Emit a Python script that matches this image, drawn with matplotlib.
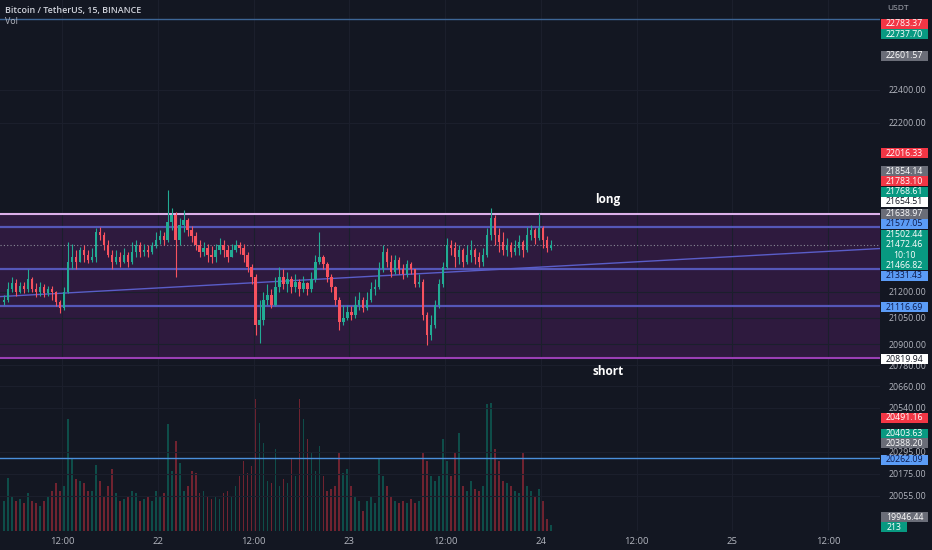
import matplotlib
matplotlib.use('Agg')
import matplotlib.pyplot as plt
from matplotlib.patches import Rectangle
from matplotlib.ticker import FixedLocator, NullLocator, FixedFormatter
import numpy as np

# ---------------- data ----------------
start_hour = 4.5          # hours after 21 Jan 00:00 of the first 30-min candle
bar_hours = 0.5
first_open = 21138
closes = [21155,21213,21248,21201,21236,21213,21271,21213,21201,21225,
          21190,21213,21196,21143,21109,21201,21375,21399,21375,21445,
          21416,21387,21399,21549,21532,21474,21416,21375,21399,21375,
          21416,21375,21433,21474,21433,21445,21433,21468,21503,21526,
          21503,21607,21648,21503,21590,21619,21561,21526,21474,21433,
          21457,21416,21399,21445,21474,21445,21399,21445,21474,21457,
          21416,21341,21283,21010,21039,21155,21184,21126,21225,21283,
          21242,21271,21225,21259,21213,21248,21213,21271,21375,21404,
          21358,21283,21225,21155,21027,21051,21085,21068,21126,21155,
          21109,21155,21213,21225,21329,21433,21375,21317,21387,21329,
          21300,21358,21329,21242,21259,21068,20952,21010,21126,21242,
          21341,21474,21457,21399,21445,21375,21416,21445,21399,21375,
          21416,21532,21631,21532,21491,21445,21474,21433,21457,21491,
          21445,21532,21561,21515,21573,21503,21457,21472]
highs = [21184,21259,21283,21271,21259,21254,21329,21283,21248,21259,
         21242,21236,21236,21207,21155,21225,21491,21480,21445,21462,
         21474,21445,21457,21573,21579,21549,21503,21445,21445,21433,
         21457,21433,21491,21503,21491,21480,21474,21491,21549,21561,
         21549,21793,21689,21666,21631,21677,21631,21584,21549,21503,
         21491,21480,21468,21480,21515,21503,21474,21480,21503,21491,
         21480,21433,21358,21300,21155,21201,21242,21213,21283,21341,
         21329,21317,21294,21300,21271,21294,21259,21317,21416,21549,
         21416,21375,21300,21236,21167,21126,21126,21120,21178,21201,
         21167,21201,21254,21271,21375,21474,21457,21416,21416,21399,
         21358,21387,21375,21329,21300,21271,21085,21068,21155,21271,
         21375,21515,21503,21491,21474,21457,21474,21503,21457,21433,
         21457,21573,21689,21648,21573,21549,21515,21491,21503,21532,
         21503,21579,21590,21573,21660,21584,21526,21503]
lows = [21126,21143,21201,21178,21190,21190,21201,21196,21172,21178,
        21167,21178,21155,21120,21080,21097,21190,21329,21329,21375,
        21375,21364,21375,21375,21503,21445,21399,21329,21358,21341,
        21364,21341,21358,21399,21399,21410,21399,21422,21457,21480,
        21474,21491,21561,21283,21474,21549,21526,21491,21445,21399,
        21410,21375,21364,21375,21422,21399,21370,21399,21433,21422,
        21375,21317,21242,20952,20906,21010,21126,21109,21120,21201,
        21213,21201,21190,21201,21178,21201,21184,21201,21259,21358,
        21329,21259,21201,21126,20981,21010,21039,21039,21051,21097,
        21085,21097,21143,21184,21213,21317,21341,21283,21300,21300,
        21271,21283,21300,21225,21225,21039,20894,20923,20993,21109,
        21225,21329,21416,21341,21358,21341,21358,21375,21358,21341,
        21352,21399,21503,21474,21433,21416,21410,21399,21416,21416,
        21399,21433,21503,21480,21503,21457,21433,21445]
volumes = [1050,1855,1225,1050,1120,980,1330,1050,980,875,
           1050,1225,1400,1680,1400,1575,3920,2520,1820,1750,
           1680,1400,1400,2310,1750,1225,1575,2170,1330,1050,
           1120,1225,1400,1330,1050,1120,1225,1050,1400,1225,
           1330,3745,2100,3150,2380,1400,1575,2100,2030,1330,
           1400,1225,1120,1225,1120,1330,1400,1225,1575,1925,
           2450,2030,2275,4620,3780,3080,1750,1680,2870,1575,
           1820,1680,2520,1925,4620,3920,3220,2730,2100,2975,
           1925,1400,1470,1575,2730,2030,2170,1575,1225,1050,
           700,1050,1225,980,2520,1925,1575,1225,1050,980,
           1050,980,1120,980,1050,2730,2450,1925,1750,1925,
           3220,2450,1925,2730,3430,1575,1400,1750,1470,1400,
           1575,4445,4480,2870,2450,1750,1680,1575,1400,1330,
           2730,1575,1400,1225,1470,1050,420,213]

zone_top, zone_bottom = 21654.51, 20819.94
zone_levels = [21577.05, 21331.43, 21116.69]
support_level = 20262.09
top_level = 22836
last_price = 21472.46
trend_prices = [21172, 21451]          # trend ray at left / right edge of the view

time_ticks = [12, 24, 36, 48, 60, 72, 84, 96, 108]
time_labels = ['12:00', '22', '12:00', '23', '12:00', '24', '12:00', '25', '12:00']
price_ticks = [22400, 22200, 21200, 21050, 20900, 20780, 20660, 20540, 20295, 20175, 20055]

price_boxes = [('22783.37', 'red'), ('22737.70', 'green'), ('22601.57', 'gray'),
               ('22016.33', 'red'), ('21854.14', 'gray'), ('21783.10', 'red'),
               ('21768.61', 'green'), ('21654.51', 'white'), ('21638.97', 'gray'),
               ('21577.05', 'blue'), ('21502.44', 'green'), ('21472.46\n10:10', 'green'),
               ('21466.82', 'green'), ('21331.43', 'blue'), ('21116.69', 'blue'),
               ('20819.94', 'white'), ('20491.16', 'red'), ('20403.63', 'green'),
               ('20388.20', 'gray'), ('20262.09', 'blue'), ('19946.44', 'gray'),
               ('213', 'green')]

# ---------------- layout / style ----------------
box_y_px = [23.8, 34.3, 55.7, 153, 171.3, 181.3, 191.7, 201.7, 213.5, 223.7, 234.5,
            249.7, 265, 275.7, 307, 359.2, 417.5, 433.5, 443.3, 460, 517.3, 527]
BG = '#131722'
UP, DOWN = '#22ab94', '#f7525f'
BOX = {'red': ('#f23645', 'white'), 'green': ('#089981', 'white'),
       'gray': ('#6a6d78', 'white'), 'white': ('#ffffff', '#131722'),
       'blue': ('#5b9cf6', '#0d1a4a')}

plt.rcParams['font.family'] = ['Open Sans', 'DejaVu Sans']

W, H = 932, 550
PLOT_R, PLOT_B = 880, 531
fig = plt.figure(figsize=(W / 100, H / 100), dpi=100, facecolor=BG)
pos = [0, (H - PLOT_B) / H, PLOT_R / W, PLOT_B / H]
axv = fig.add_axes(pos)
ax = fig.add_axes(pos, sharex=axv)
axv.set_zorder(0)
ax.set_zorder(1)
ax.patch.set_alpha(0)
axv.axis('off')

n = len(closes)
x = start_hour + bar_hours * (np.arange(n) + 0.5)
c = np.array(closes, float)
o = np.array([first_open] + closes[:-1], float)
hi = np.maximum(np.array(highs, float), np.maximum(o, c))
lo = np.minimum(np.array(lows, float), np.minimum(o, c))
up = c >= o
cols = np.where(up, UP, DOWN)

xmin = 12 - 62 / 7.98
xmax = 12 + (PLOT_R - 62) / 7.98
ax.set_xlim(xmin, xmax)
ax.set_yscale('log')
ax.set_ylim(19862, 22954)

# volume
axv.bar(x, volumes, width=bar_hours * 0.42, color=np.where(up, '#089981', '#f23645'),
        alpha=0.42, linewidth=0)
axv.set_ylim(0, 35 * PLOT_B)

# zone
ax.axhspan(zone_bottom, zone_top, color='#2e1a3e', zorder=1, lw=0)
ax.axhline(zone_top, color='#dcb0ea', lw=1.5, zorder=2)
ax.axhline(zone_bottom, color='#9a3fb4', lw=1.5, zorder=2)
for lvl in zone_levels:
    ax.axhline(lvl, color='#5557b8', lw=1.6, zorder=2)
ax.axhline(support_level, color='#4a8fdb', lw=1.0, zorder=2)
ax.axhline(top_level, color='#3d6696', lw=1.0, zorder=2)
ax.axhline(last_price, color='#8a8d98', lw=0.8, ls=(0, (1, 2)), zorder=2)
ax.plot([xmin, xmax], trend_prices, color='#5a5dc8', lw=1.0, zorder=2)

# candles
ax.vlines(x, lo, hi, colors=cols, lw=0.8, zorder=3)
ax.bar(x, np.maximum(np.abs(c - o), 1.5), bottom=np.minimum(o, c),
       width=bar_hours * 0.62, color=cols, linewidth=0, zorder=4)

# axes / grid
for s in ax.spines.values():
    s.set_visible(False)
ax.xaxis.set_major_locator(FixedLocator(time_ticks))
ax.xaxis.set_major_formatter(FixedFormatter(time_labels))
ax.yaxis.tick_right()
ax.yaxis.set_major_locator(FixedLocator(price_ticks))
ax.yaxis.set_major_formatter(FixedFormatter(['%.2f' % t for t in price_ticks]))
ax.yaxis.set_minor_locator(NullLocator())
ax.tick_params(axis='y', which='both', length=0, pad=6.5, labelsize=6.3, labelcolor='#b2b5be')
ax.tick_params(axis='x', length=0, pad=4, labelsize=6.8, labelcolor='#b2b5be')
ax.grid(True, color='#1b1f2c', lw=0.8, zorder=0)

# texts on chart
ax.annotate('long', xy=(80.4, zone_top), xytext=(0, 14), textcoords='offset pixels',
            ha='center', va='center', color='white', fontsize=8.5, fontweight='bold', zorder=6)
ax.annotate('short', xy=(80.4, zone_bottom), xytext=(0, -13), textcoords='offset pixels',
            ha='center', va='center', color='white', fontsize=8.5, fontweight='bold', zorder=6)

fig.text(5 / W, 1 - 10.5 / H, 'Bitcoin / TetherUS, 15, BINANCE', fontsize=6.4,
         color='#d1d4dc', va='center', ha='left', fontweight='semibold')
fig.text(5 / W, 1 - 21 / H, 'Vol', fontsize=6.4, color='#b2b5be', va='center', ha='left')
fig.text(898 / W, 1 - 8.5 / H, 'USDT', fontsize=6.0, color='#b2b5be', va='center', ha='center')

# price boxes on the scale
for (txt, kind), yc in zip(price_boxes, box_y_px):
    bg, fg = BOX[kind]
    h = 20 if '\n' in txt else 10
    x0, x1 = 881, (907 if len(txt) <= 3 else 928)
    fig.patches.append(Rectangle((x0 / W, 1 - (yc + h / 2) / H), (x1 - x0) / W, h / H,
                                 transform=fig.transFigure, facecolor=bg, edgecolor='none',
                                 zorder=1))
    fig.text((x0 + x1) / 2 / W, 1 - yc / H, txt, fontsize=6.3, color=fg, ha='center',
             va='center', zorder=3, linespacing=1.25)

fig.savefig('out.png', dpi=100, facecolor=BG)
